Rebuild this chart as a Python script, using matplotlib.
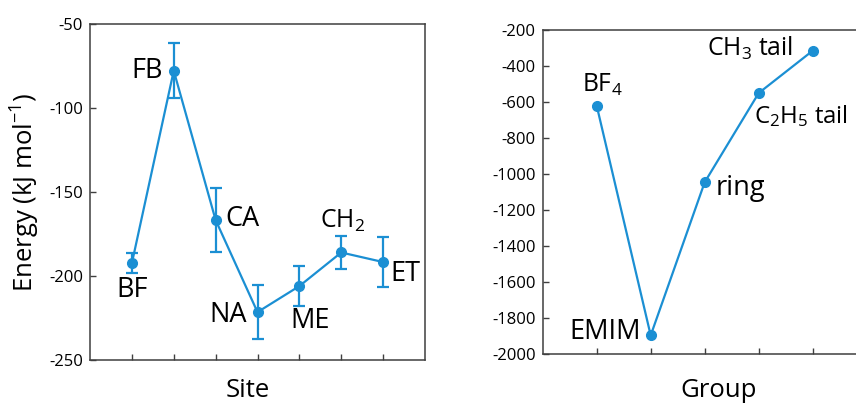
import numpy as np
import matplotlib.pyplot as plt

plt.rcParams['font.family'] = ['Open Sans', 'DejaVu Sans']
plt.rcParams['mathtext.default'] = 'regular'
plt.rcParams['axes.unicode_minus'] = False

# binding energy per site, with error bars
sites = ['BF', 'FB', 'CA', 'NA', 'ME', 'CH$_2$', 'ET']
site_energy = [-192.4, -77.8, -166.7, -221.5, -206.0, -186.0, -191.7]
site_err = [6.0, 16.2, 18.8, 16.0, 12.0, 10.0, 15.0]

# energy summed per group
groups = ['BF$_4$', 'EMIM', 'ring', 'C$_2$H$_5$ tail', 'CH$_3$ tail']
group_energy = [-620, -1895, -1045, -550, -315]

blue = '#1b8fd3'
axcol = '#3f3f3f'

fig = plt.figure(figsize=(8.56, 4.03), dpi=100)
ax1 = fig.add_axes([90/856, 1-360/403, 335/856, 336/403])
ax2 = fig.add_axes([542.7/856, 1-354.3/403, 324/856, 324.3/403])

for ax in (ax1, ax2):
    for s in ax.spines.values():
        s.set_color(axcol)
        s.set_linewidth(1.1)
    ax.tick_params(direction='in', length=4, width=1.0, color=axcol,
                   labelsize=12, pad=5)

# left panel
x1 = np.arange(1, len(sites) + 1)
ax1.errorbar(x1, site_energy, yerr=site_err, color=blue, lw=1.6,
             marker='o', ms=7, elinewidth=1.6, capsize=4, capthick=1.6)
ax1.set_xlim(0, 8)
ax1.set_ylim(-250, -50)
ax1.set_yticks([-250, -200, -150, -100, -50])
ax1.set_xticks(x1)
ax1.tick_params(axis='x', labelbottom=False)
ax1.set_xlabel('Site', fontsize=18.5, va='center')
ax1.xaxis.set_label_coords(0.472, -0.092)
ax1.set_ylabel('Energy (kJ mol$^{-1}$)', fontsize=18.5, va='center')
ax1.yaxis.set_label_coords(-0.194, 0.5)

# label offsets in pixels: (dx, dy, ha, va, size)
site_offsets = [(0, -27, 'center', 'center', 19.5),
                (-27, 0, 'center', 'center', 19.5),
                (27, 1, 'center', 'center', 19.5),
                (-29, -3, 'center', 'center', 19.5),
                (11, -35, 'center', 'center', 19.5),
                (1, 25, 'center', 'baseline', 17.8),
                (22, -12, 'center', 'center', 19.5)]
for xi, yi, lab, (dx, dy, ha, va, fs) in zip(x1, site_energy, sites, site_offsets):
    ax1.annotate(lab, (xi, yi), xytext=(dx, dy), textcoords='offset pixels',
                 ha=ha, va=va, fontsize=fs)

# right panel
x2 = np.arange(1, len(groups) + 1)
ax2.plot(x2, group_energy, color=blue, lw=1.6, marker='o', ms=7)
ax2.set_xlim(0, 6)
ax2.set_ylim(-2000, -200)
ax2.set_yticks(np.arange(-2000, -199, 200))
ax2.set_xticks(x2)
ax2.tick_params(axis='x', labelbottom=False)
ax2.set_xlabel('Group', fontsize=18.5, va='center')
ax2.xaxis.set_label_coords((718.4-542.7)/324, -0.111)

group_offsets = [(-15, 14, 'left', 'baseline', 17.8),
                 (-10, 3, 'right', 'center', 19.5),
                 (11, -13, 'left', 'baseline', 19.5),
                 (-5, -30, 'left', 'baseline', 17.3),
                 (-20, -5, 'right', 'baseline', 17.8)]
for xi, yi, lab, (dx, dy, ha, va, fs) in zip(x2, group_energy, groups, group_offsets):
    ax2.annotate(lab, (xi, yi), xytext=(dx, dy), textcoords='offset pixels',
                 ha=ha, va=va, fontsize=fs)

fig.savefig('out.png', dpi=100)
